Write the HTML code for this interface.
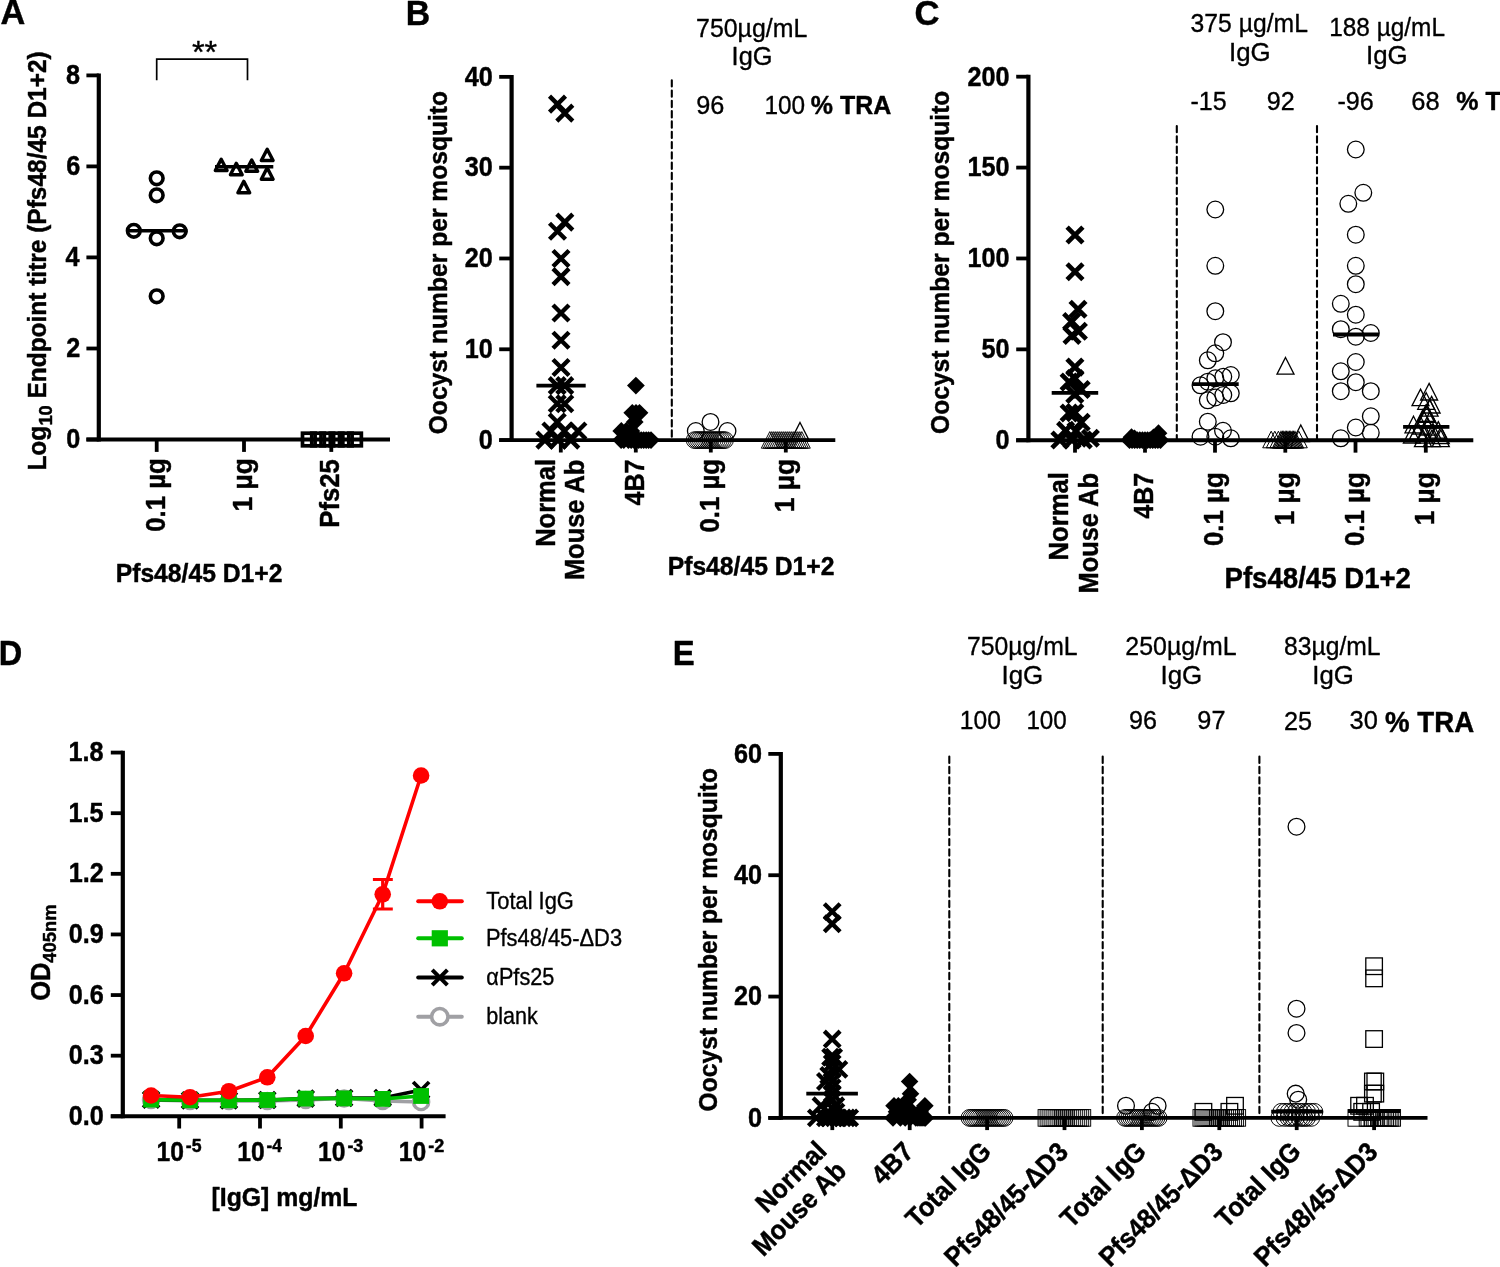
<!DOCTYPE html>
<html lang="en">
<head>
<meta charset="utf-8">
<title>Figure</title>
<style>
html,body{margin:0;padding:0;background:#fff;}
body{width:1500px;height:1267px;overflow:hidden;}
svg{display:block;font-family:'Liberation Sans', Arial, Helvetica, sans-serif;}
</style>
</head>
<body>
<svg width="1500" height="1267" viewBox="0 0 1500 1267">
<rect x="0" y="0" width="1500" height="1267" fill="#fff"/>
<g id="panelA">
<text transform="translate(1.3 24.4) scale(0.9589 1)" x="-0.9" y="0" font-size="35.8" font-weight="bold" stroke="#000" stroke-width="0.45" stroke-linejoin="round">A</text>
<line x1="98.8" y1="73.5" x2="98.8" y2="441.4" stroke="#000" stroke-width="4.2" />
<line x1="86.4" y1="439.5" x2="390" y2="439.5" stroke="#000" stroke-width="3.9" />
<line x1="86.4" y1="75.4" x2="98.8" y2="75.4" stroke="#000" stroke-width="3.8" />
<line x1="86.4" y1="166.4" x2="98.8" y2="166.4" stroke="#000" stroke-width="3.8" />
<line x1="86.4" y1="257.4" x2="98.8" y2="257.4" stroke="#000" stroke-width="3.8" />
<line x1="86.4" y1="348.5" x2="98.8" y2="348.5" stroke="#000" stroke-width="3.8" />
<line x1="86.4" y1="439.5" x2="98.8" y2="439.5" stroke="#000" stroke-width="3.8" />
<line x1="156.7" y1="439.5" x2="156.7" y2="451.9" stroke="#000" stroke-width="3.8" />
<line x1="244" y1="439.5" x2="244" y2="451.9" stroke="#000" stroke-width="3.8" />
<line x1="331.3" y1="439.5" x2="331.3" y2="451.9" stroke="#000" stroke-width="3.8" />
<text transform="translate(79.3 83.9) scale(0.9340 1)" x="-14.18" y="0" font-size="27" font-weight="bold" stroke="#000" stroke-width="0.45" stroke-linejoin="round">8</text>
<text transform="translate(79.3 174.9) scale(0.9340 1)" x="-14.04" y="0" font-size="27" font-weight="bold" stroke="#000" stroke-width="0.45" stroke-linejoin="round">6</text>
<text transform="translate(79.3 265.9) scale(0.9340 1)" x="-14.85" y="0" font-size="27" font-weight="bold" stroke="#000" stroke-width="0.45" stroke-linejoin="round">4</text>
<text transform="translate(79.3 357) scale(0.9340 1)" x="-13.91" y="0" font-size="27" font-weight="bold" stroke="#000" stroke-width="0.45" stroke-linejoin="round">2</text>
<text transform="translate(79.3 448) scale(0.9340 1)" x="-13.91" y="0" font-size="27" font-weight="bold" stroke="#000" stroke-width="0.45" stroke-linejoin="round">0</text>
<text transform="translate(164.8 459.8) rotate(-90) scale(0.9562 1)" x="-75.33" y="0" font-size="27" font-weight="bold" stroke="#000" stroke-width="0.45" stroke-linejoin="round">0.1 µg</text>
<text transform="translate(252.1 459.8) rotate(-90) scale(0.9798 1)" x="-52.79" y="0" font-size="27" font-weight="bold" stroke="#000" stroke-width="0.45" stroke-linejoin="round">1 µg</text>
<text transform="translate(339.4 459.8) rotate(-90) scale(0.9536 1)" x="-71.28" y="0" font-size="27" font-weight="bold" stroke="#000" stroke-width="0.45" stroke-linejoin="round">Pfs25</text>
<text transform="translate(117.3 582) scale(0.9394 1)" x="-1.71" y="0" font-size="26.3" font-weight="bold" stroke="#000" stroke-width="0.45" stroke-linejoin="round">Pfs48/45 D1+2</text>
<text transform="translate(46.2 469) rotate(-90) scale(0.9304 1)" x="-1.71" y="0" font-size="26.3" font-weight="bold" stroke="#000" stroke-width="0.45" stroke-linejoin="round">Log</text>
<text transform="translate(52.2 424.4) rotate(-90) scale(1.0286 1)" x="-1.16" y="0" font-size="17.8" font-weight="bold" stroke="#000" stroke-width="0.45" stroke-linejoin="round">10</text>
<text transform="translate(45.5 397) rotate(-90) scale(0.9308 1)" x="-1.71" y="0" font-size="26.3" font-weight="bold" stroke="#000" stroke-width="0.45" stroke-linejoin="round">Endpoint titre (Pfs48/45 D1+2)</text>
<path d="M156.7 80.3V59.2H247.5V80.3" stroke="#000" stroke-width="1.7" fill="none"/>
<text transform="translate(204.6 63.4) scale(1.0135 1)" x="-12.48" y="0" font-size="32" stroke="#000" stroke-width="0.35" stroke-linejoin="round">**</text>
<circle cx="156.7" cy="178.3" r="6.35" stroke="#000" stroke-width="3.6" fill="none"/>
<circle cx="156.7" cy="195.3" r="6.35" stroke="#000" stroke-width="3.6" fill="none"/>
<circle cx="133.8" cy="230.8" r="6.35" stroke="#000" stroke-width="3.6" fill="none"/>
<circle cx="156.7" cy="238.3" r="6.35" stroke="#000" stroke-width="3.6" fill="none"/>
<circle cx="179.7" cy="231.3" r="6.35" stroke="#000" stroke-width="3.6" fill="none"/>
<circle cx="156.7" cy="296.3" r="6.35" stroke="#000" stroke-width="3.6" fill="none"/>
<line x1="126.7" y1="230.8" x2="187.5" y2="230.8" stroke="#000" stroke-width="3.4" />
<path d="M221.2 159.2L227.1 170.5L215.3 170.5Z" stroke="#000" stroke-width="3.4" fill="none" stroke-linejoin="round"/>
<path d="M236.3 163.4L242.2 174.7L230.4 174.7Z" stroke="#000" stroke-width="3.4" fill="none" stroke-linejoin="round"/>
<path d="M251.7 160L257.6 171.3L245.8 171.3Z" stroke="#000" stroke-width="3.4" fill="none" stroke-linejoin="round"/>
<path d="M267.2 149.2L273.1 160.5L261.3 160.5Z" stroke="#000" stroke-width="3.4" fill="none" stroke-linejoin="round"/>
<path d="M267.2 167.9L273.1 179.2L261.3 179.2Z" stroke="#000" stroke-width="3.4" fill="none" stroke-linejoin="round"/>
<path d="M243.8 181.4L249.7 192.7L237.9 192.7Z" stroke="#000" stroke-width="3.4" fill="none" stroke-linejoin="round"/>
<line x1="215" y1="166.7" x2="273.3" y2="166.7" stroke="#000" stroke-width="3.4" />
<rect x="302.5" y="433.2" width="12.6" height="12.6" stroke="#000" stroke-width="3.7" fill="none"/>
<rect x="311.75" y="433.2" width="12.6" height="12.6" stroke="#000" stroke-width="3.7" fill="none"/>
<rect x="321" y="433.2" width="12.6" height="12.6" stroke="#000" stroke-width="3.7" fill="none"/>
<rect x="330.25" y="433.2" width="12.6" height="12.6" stroke="#000" stroke-width="3.7" fill="none"/>
<rect x="339.5" y="433.2" width="12.6" height="12.6" stroke="#000" stroke-width="3.7" fill="none"/>
<rect x="348.75" y="433.2" width="12.6" height="12.6" stroke="#000" stroke-width="3.7" fill="none"/>
</g>
<g id="panelB">
<text transform="translate(407.9 24.6) scale(0.9381 1)" x="-2.34" y="0" font-size="36" font-weight="bold" stroke="#000" stroke-width="0.45" stroke-linejoin="round">B</text>
<line x1="511.6" y1="74.96" x2="511.6" y2="442" stroke="#000" stroke-width="4.2" />
<line x1="499.2" y1="440.1" x2="835.3" y2="440.1" stroke="#000" stroke-width="3.9" />
<line x1="499.2" y1="76.86" x2="511.6" y2="76.86" stroke="#000" stroke-width="3.8" />
<line x1="499.2" y1="167.67" x2="511.6" y2="167.67" stroke="#000" stroke-width="3.8" />
<line x1="499.2" y1="258.48" x2="511.6" y2="258.48" stroke="#000" stroke-width="3.8" />
<line x1="499.2" y1="349.29" x2="511.6" y2="349.29" stroke="#000" stroke-width="3.8" />
<line x1="499.2" y1="440.1" x2="511.6" y2="440.1" stroke="#000" stroke-width="3.8" />
<line x1="560.8" y1="440.1" x2="560.8" y2="452.5" stroke="#000" stroke-width="3.8" />
<line x1="635.8" y1="440.1" x2="635.8" y2="452.5" stroke="#000" stroke-width="3.8" />
<line x1="710.8" y1="440.1" x2="710.8" y2="452.5" stroke="#000" stroke-width="3.8" />
<line x1="785.8" y1="440.1" x2="785.8" y2="452.5" stroke="#000" stroke-width="3.8" />
<text transform="translate(491.7 85.66) scale(0.9340 1)" x="-28.89" y="0" font-size="27" font-weight="bold" stroke="#000" stroke-width="0.45" stroke-linejoin="round">40</text>
<text transform="translate(491.7 176.47) scale(0.9340 1)" x="-28.89" y="0" font-size="27" font-weight="bold" stroke="#000" stroke-width="0.45" stroke-linejoin="round">30</text>
<text transform="translate(491.7 267.28) scale(0.9340 1)" x="-28.89" y="0" font-size="27" font-weight="bold" stroke="#000" stroke-width="0.45" stroke-linejoin="round">20</text>
<text transform="translate(491.7 358.09) scale(0.9340 1)" x="-28.89" y="0" font-size="27" font-weight="bold" stroke="#000" stroke-width="0.45" stroke-linejoin="round">10</text>
<text transform="translate(491.7 448.9) scale(0.9340 1)" x="-13.91" y="0" font-size="27" font-weight="bold" stroke="#000" stroke-width="0.45" stroke-linejoin="round">0</text>
<text transform="translate(555 460.6) rotate(-90) scale(0.9466 1)" x="-91.12" y="0" font-size="27" font-weight="bold" stroke="#000" stroke-width="0.45" stroke-linejoin="round">Normal</text>
<text transform="translate(584.3 460.6) rotate(-90) scale(0.9413 1)" x="-126.9" y="0" font-size="27" font-weight="bold" stroke="#000" stroke-width="0.45" stroke-linejoin="round">Mouse Ab</text>
<text transform="translate(644.1 460.6) rotate(-90) scale(0.9306 1)" x="-48.33" y="0" font-size="27" font-weight="bold" stroke="#000" stroke-width="0.45" stroke-linejoin="round">4B7</text>
<text transform="translate(719 460.6) rotate(-90) scale(0.9562 1)" x="-75.33" y="0" font-size="27" font-weight="bold" stroke="#000" stroke-width="0.45" stroke-linejoin="round">0.1 µg</text>
<text transform="translate(794 460.6) rotate(-90) scale(0.9798 1)" x="-52.79" y="0" font-size="27" font-weight="bold" stroke="#000" stroke-width="0.45" stroke-linejoin="round">1 µg</text>
<text transform="translate(669.3 575.2) scale(0.9394 1)" x="-1.71" y="0" font-size="26.3" font-weight="bold" stroke="#000" stroke-width="0.45" stroke-linejoin="round">Pfs48/45 D1+2</text>
<text transform="translate(446.6 433.3) rotate(-90) scale(0.9365 1)" x="-1.05" y="0" font-size="26.3" font-weight="bold" stroke="#000" stroke-width="0.45" stroke-linejoin="round">Oocyst number per mosquito</text>
<line x1="671.8" y1="80.2" x2="671.8" y2="440" stroke="#000" stroke-width="2.1" stroke-dasharray="6.3 4" stroke-linecap="round"/>
<text transform="translate(697.3 36.7) scale(0.9397 1)" x="-1.33" y="0" font-size="26.5" stroke="#000" stroke-width="0.35" stroke-linejoin="round">750µg/mL</text>
<text transform="translate(733.9 65) scale(0.9577 1)" x="-2.38" y="0" font-size="26.5" stroke="#000" stroke-width="0.35" stroke-linejoin="round">IgG</text>
<text transform="translate(697.3 113.8) scale(0.9545 1)" x="-1.19" y="0" font-size="26.5" stroke="#000" stroke-width="0.35" stroke-linejoin="round">96</text>
<text transform="translate(766.3 113.8) scale(0.9203 1)" x="-1.99" y="0" font-size="26.5" stroke="#000" stroke-width="0.35" stroke-linejoin="round">100</text>
<text transform="translate(811.4 113.8) scale(0.9393 1)" x="-0.67" y="0" font-size="26.6" font-weight="bold" stroke="#000" stroke-width="0.45" stroke-linejoin="round">% TRA</text>
<path d="M549.5 96.1L565.5 112.1M549.5 112.1L565.5 96.1" stroke="#000" stroke-width="4.4" fill="none"/>
<path d="M556.8 105.18L572.8 121.18M556.8 121.18L572.8 105.18" stroke="#000" stroke-width="4.4" fill="none"/>
<path d="M556.8 214.16L572.8 230.16M556.8 230.16L572.8 214.16" stroke="#000" stroke-width="4.4" fill="none"/>
<path d="M549.5 223.24L565.5 239.24M549.5 239.24L565.5 223.24" stroke="#000" stroke-width="4.4" fill="none"/>
<path d="M553 250.48L569 266.48M553 266.48L569 250.48" stroke="#000" stroke-width="4.4" fill="none"/>
<path d="M553 268.64L569 284.64M553 284.64L569 268.64" stroke="#000" stroke-width="4.4" fill="none"/>
<path d="M553 304.97L569 320.97M553 320.97L569 304.97" stroke="#000" stroke-width="4.4" fill="none"/>
<path d="M553 332.21L569 348.21M553 348.21L569 332.21" stroke="#000" stroke-width="4.4" fill="none"/>
<path d="M553 359.45L569 375.45M553 375.45L569 359.45" stroke="#000" stroke-width="4.4" fill="none"/>
<path d="M549.25 377.61L565.25 393.61M549.25 393.61L565.25 377.61" stroke="#000" stroke-width="4.4" fill="none"/>
<path d="M556.75 377.61L572.75 393.61M556.75 393.61L572.75 377.61" stroke="#000" stroke-width="4.4" fill="none"/>
<path d="M549.25 395.78L565.25 411.78M549.25 411.78L565.25 395.78" stroke="#000" stroke-width="4.4" fill="none"/>
<path d="M556.75 395.78L572.75 411.78M556.75 411.78L572.75 395.78" stroke="#000" stroke-width="4.4" fill="none"/>
<path d="M549.25 413.94L565.25 429.94M549.25 429.94L565.25 413.94" stroke="#000" stroke-width="4.4" fill="none"/>
<path d="M542.9 423.02L558.9 439.02M542.9 439.02L558.9 423.02" stroke="#000" stroke-width="4.4" fill="none"/>
<path d="M556.4 423.02L572.4 439.02M556.4 439.02L572.4 423.02" stroke="#000" stroke-width="4.4" fill="none"/>
<path d="M569.9 423.02L585.9 439.02M569.9 439.02L585.9 423.02" stroke="#000" stroke-width="4.4" fill="none"/>
<path d="M536.9 432.1L552.9 448.1M536.9 448.1L552.9 432.1" stroke="#000" stroke-width="4.4" fill="none"/>
<path d="M550 432.1L566 448.1M550 448.1L566 432.1" stroke="#000" stroke-width="4.4" fill="none"/>
<path d="M562.8 432.1L578.8 448.1M562.8 448.1L578.8 432.1" stroke="#000" stroke-width="4.4" fill="none"/>
<line x1="536.4" y1="385.61" x2="585.7" y2="385.61" stroke="#000" stroke-width="3.6" />
<path d="M635.9 376.71L644.8 385.61L635.9 394.51L627 385.61Z" fill="#000"/>
<path d="M632.3 403.96L641.2 412.86L632.3 421.76L623.4 412.86Z" fill="#000"/>
<path d="M636 403.96L644.9 412.86L636 421.76L627.1 412.86Z" fill="#000"/>
<path d="M639.5 403.96L648.4 412.86L639.5 421.76L630.6 412.86Z" fill="#000"/>
<path d="M634.7 413.04L643.6 421.94L634.7 430.84L625.8 421.94Z" fill="#000"/>
<path d="M621.3 422.12L630.2 431.02L621.3 439.92L612.4 431.02Z" fill="#000"/>
<path d="M626.3 422.12L635.2 431.02L626.3 439.92L617.4 431.02Z" fill="#000"/>
<path d="M631.3 422.12L640.2 431.02L631.3 439.92L622.4 431.02Z" fill="#000"/>
<path d="M621.1 431.2L630 440.1L621.1 449L612.2 440.1Z" fill="#000"/>
<path d="M623.8 431.2L632.7 440.1L623.8 449L614.9 440.1Z" fill="#000"/>
<path d="M628.4 431.2L637.3 440.1L628.4 449L619.5 440.1Z" fill="#000"/>
<path d="M631.2 431.2L640.1 440.1L631.2 449L622.3 440.1Z" fill="#000"/>
<path d="M634 431.2L642.9 440.1L634 449L625.1 440.1Z" fill="#000"/>
<path d="M636.3 431.2L645.2 440.1L636.3 449L627.4 440.1Z" fill="#000"/>
<path d="M638.7 431.2L647.6 440.1L638.7 449L629.8 440.1Z" fill="#000"/>
<path d="M641.2 431.2L650.1 440.1L641.2 449L632.3 440.1Z" fill="#000"/>
<path d="M643.7 431.2L652.6 440.1L643.7 449L634.8 440.1Z" fill="#000"/>
<path d="M646.2 431.2L655.1 440.1L646.2 449L637.3 440.1Z" fill="#000"/>
<path d="M648.6 431.2L657.5 440.1L648.6 449L639.7 440.1Z" fill="#000"/>
<path d="M651 431.2L659.9 440.1L651 449L642.1 440.1Z" fill="#000"/>
<circle cx="710.5" cy="421.94" r="8.35" stroke="#000" stroke-width="1.3" fill="none"/>
<circle cx="695.8" cy="431.02" r="8.35" stroke="#000" stroke-width="1.3" fill="none"/>
<circle cx="727.5" cy="431.02" r="8.35" stroke="#000" stroke-width="1.3" fill="none"/>
<circle cx="694.6" cy="440.1" r="8.35" stroke="#000" stroke-width="0.95" fill="none"/>
<circle cx="696.63" cy="440.1" r="8.35" stroke="#000" stroke-width="0.95" fill="none"/>
<circle cx="698.66" cy="440.1" r="8.35" stroke="#000" stroke-width="0.95" fill="none"/>
<circle cx="700.69" cy="440.1" r="8.35" stroke="#000" stroke-width="0.95" fill="none"/>
<circle cx="702.72" cy="440.1" r="8.35" stroke="#000" stroke-width="0.95" fill="none"/>
<circle cx="704.75" cy="440.1" r="8.35" stroke="#000" stroke-width="0.95" fill="none"/>
<circle cx="706.78" cy="440.1" r="8.35" stroke="#000" stroke-width="0.95" fill="none"/>
<circle cx="708.81" cy="440.1" r="8.35" stroke="#000" stroke-width="0.95" fill="none"/>
<circle cx="710.84" cy="440.1" r="8.35" stroke="#000" stroke-width="0.95" fill="none"/>
<circle cx="712.87" cy="440.1" r="8.35" stroke="#000" stroke-width="0.95" fill="none"/>
<circle cx="714.9" cy="440.1" r="8.35" stroke="#000" stroke-width="0.95" fill="none"/>
<circle cx="716.93" cy="440.1" r="8.35" stroke="#000" stroke-width="0.95" fill="none"/>
<circle cx="718.96" cy="440.1" r="8.35" stroke="#000" stroke-width="0.95" fill="none"/>
<circle cx="720.99" cy="440.1" r="8.35" stroke="#000" stroke-width="0.95" fill="none"/>
<circle cx="723.02" cy="440.1" r="8.35" stroke="#000" stroke-width="0.95" fill="none"/>
<circle cx="725.05" cy="440.1" r="8.35" stroke="#000" stroke-width="0.95" fill="none"/>
<path d="M769.8 431.6L778.3 448.2L761.3 448.2Z" stroke="#000" stroke-width="0.95" fill="none" stroke-linejoin="miter"/>
<path d="M771.8 431.6L780.3 448.2L763.3 448.2Z" stroke="#000" stroke-width="0.95" fill="none" stroke-linejoin="miter"/>
<path d="M773.8 431.6L782.3 448.2L765.3 448.2Z" stroke="#000" stroke-width="0.95" fill="none" stroke-linejoin="miter"/>
<path d="M775.8 431.6L784.3 448.2L767.3 448.2Z" stroke="#000" stroke-width="0.95" fill="none" stroke-linejoin="miter"/>
<path d="M777.8 431.6L786.3 448.2L769.3 448.2Z" stroke="#000" stroke-width="0.95" fill="none" stroke-linejoin="miter"/>
<path d="M779.8 431.6L788.3 448.2L771.3 448.2Z" stroke="#000" stroke-width="0.95" fill="none" stroke-linejoin="miter"/>
<path d="M781.8 431.6L790.3 448.2L773.3 448.2Z" stroke="#000" stroke-width="0.95" fill="none" stroke-linejoin="miter"/>
<path d="M783.8 431.6L792.3 448.2L775.3 448.2Z" stroke="#000" stroke-width="0.95" fill="none" stroke-linejoin="miter"/>
<path d="M785.8 431.6L794.3 448.2L777.3 448.2Z" stroke="#000" stroke-width="0.95" fill="none" stroke-linejoin="miter"/>
<path d="M787.8 431.6L796.3 448.2L779.3 448.2Z" stroke="#000" stroke-width="0.95" fill="none" stroke-linejoin="miter"/>
<path d="M789.8 431.6L798.3 448.2L781.3 448.2Z" stroke="#000" stroke-width="0.95" fill="none" stroke-linejoin="miter"/>
<path d="M791.8 431.6L800.3 448.2L783.3 448.2Z" stroke="#000" stroke-width="0.95" fill="none" stroke-linejoin="miter"/>
<path d="M793.8 431.6L802.3 448.2L785.3 448.2Z" stroke="#000" stroke-width="0.95" fill="none" stroke-linejoin="miter"/>
<path d="M795.8 431.6L804.3 448.2L787.3 448.2Z" stroke="#000" stroke-width="0.95" fill="none" stroke-linejoin="miter"/>
<path d="M797.8 431.6L806.3 448.2L789.3 448.2Z" stroke="#000" stroke-width="0.95" fill="none" stroke-linejoin="miter"/>
<path d="M799.8 431.6L808.3 448.2L791.3 448.2Z" stroke="#000" stroke-width="0.95" fill="none" stroke-linejoin="miter"/>
<path d="M801.8 431.6L810.3 448.2L793.3 448.2Z" stroke="#000" stroke-width="0.95" fill="none" stroke-linejoin="miter"/>
<path d="M800 422.52L808.5 439.12L791.5 439.12Z" stroke="#000" stroke-width="1.3" fill="none" stroke-linejoin="miter"/>
</g>
<g id="panelC">
<text transform="translate(915.8 24.5) scale(0.9627 1)" x="-1.44" y="0" font-size="36" font-weight="bold" stroke="#000" stroke-width="0.45" stroke-linejoin="round">C</text>
<line x1="1028.4" y1="74.79" x2="1028.4" y2="442.15" stroke="#000" stroke-width="4.2" />
<line x1="1016.2" y1="440.25" x2="1473.3" y2="440.25" stroke="#000" stroke-width="3.9" />
<line x1="1016.2" y1="76.69" x2="1028.4" y2="76.69" stroke="#000" stroke-width="3.8" />
<line x1="1016.2" y1="167.58" x2="1028.4" y2="167.58" stroke="#000" stroke-width="3.8" />
<line x1="1016.2" y1="258.47" x2="1028.4" y2="258.47" stroke="#000" stroke-width="3.8" />
<line x1="1016.2" y1="349.36" x2="1028.4" y2="349.36" stroke="#000" stroke-width="3.8" />
<line x1="1016.2" y1="440.25" x2="1028.4" y2="440.25" stroke="#000" stroke-width="3.8" />
<line x1="1075" y1="440.25" x2="1075" y2="452.65" stroke="#000" stroke-width="3.8" />
<line x1="1145" y1="440.25" x2="1145" y2="452.65" stroke="#000" stroke-width="3.8" />
<line x1="1215" y1="440.25" x2="1215" y2="452.65" stroke="#000" stroke-width="3.8" />
<line x1="1285.3" y1="440.25" x2="1285.3" y2="452.65" stroke="#000" stroke-width="3.8" />
<line x1="1355.5" y1="440.25" x2="1355.5" y2="452.65" stroke="#000" stroke-width="3.8" />
<line x1="1425.8" y1="440.25" x2="1425.8" y2="452.65" stroke="#000" stroke-width="3.8" />
<text transform="translate(1008.5 85.59) scale(0.9340 1)" x="-43.88" y="0" font-size="27" font-weight="bold" stroke="#000" stroke-width="0.45" stroke-linejoin="round">200</text>
<text transform="translate(1008.5 176.48) scale(0.9340 1)" x="-43.88" y="0" font-size="27" font-weight="bold" stroke="#000" stroke-width="0.45" stroke-linejoin="round">150</text>
<text transform="translate(1008.5 267.37) scale(0.9340 1)" x="-43.88" y="0" font-size="27" font-weight="bold" stroke="#000" stroke-width="0.45" stroke-linejoin="round">100</text>
<text transform="translate(1008.5 358.26) scale(0.9340 1)" x="-28.89" y="0" font-size="27" font-weight="bold" stroke="#000" stroke-width="0.45" stroke-linejoin="round">50</text>
<text transform="translate(1008.5 449.15) scale(0.9340 1)" x="-13.91" y="0" font-size="27" font-weight="bold" stroke="#000" stroke-width="0.45" stroke-linejoin="round">0</text>
<text transform="translate(1067.6 474) rotate(-90) scale(0.9489 1)" x="-91.12" y="0" font-size="27" font-weight="bold" stroke="#000" stroke-width="0.45" stroke-linejoin="round">Normal</text>
<text transform="translate(1097.8 474) rotate(-90) scale(0.9413 1)" x="-126.9" y="0" font-size="27" font-weight="bold" stroke="#000" stroke-width="0.45" stroke-linejoin="round">Mouse Ab</text>
<text transform="translate(1153.4 474) rotate(-90) scale(0.9264 1)" x="-48.33" y="0" font-size="27" font-weight="bold" stroke="#000" stroke-width="0.45" stroke-linejoin="round">4B7</text>
<text transform="translate(1223.1 474) rotate(-90) scale(0.9562 1)" x="-75.33" y="0" font-size="27" font-weight="bold" stroke="#000" stroke-width="0.45" stroke-linejoin="round">0.1 µg</text>
<text transform="translate(1293.9 474) rotate(-90) scale(0.9700 1)" x="-52.79" y="0" font-size="27" font-weight="bold" stroke="#000" stroke-width="0.45" stroke-linejoin="round">1 µg</text>
<text transform="translate(1363.6 474) rotate(-90) scale(0.9562 1)" x="-75.33" y="0" font-size="27" font-weight="bold" stroke="#000" stroke-width="0.45" stroke-linejoin="round">0.1 µg</text>
<text transform="translate(1434.4 474) rotate(-90) scale(0.9700 1)" x="-52.79" y="0" font-size="27" font-weight="bold" stroke="#000" stroke-width="0.45" stroke-linejoin="round">1 µg</text>
<text transform="translate(1226.3 588) scale(0.9265 1)" x="-1.94" y="0" font-size="29.8" font-weight="bold" stroke="#000" stroke-width="0.45" stroke-linejoin="round">Pfs48/45 D1+2</text>
<text transform="translate(949 433) rotate(-90) scale(0.9365 1)" x="-1.05" y="0" font-size="26.3" font-weight="bold" stroke="#000" stroke-width="0.45" stroke-linejoin="round">Oocyst number per mosquito</text>
<line x1="1176.8" y1="126" x2="1176.8" y2="439.5" stroke="#000" stroke-width="2.1" stroke-dasharray="6.3 4" stroke-linecap="round"/>
<line x1="1317" y1="126" x2="1317" y2="439.5" stroke="#000" stroke-width="2.1" stroke-dasharray="6.3 4" stroke-linecap="round"/>
<text transform="translate(1191.6 31.5) scale(0.9331 1)" x="-1.06" y="0" font-size="26.5" stroke="#000" stroke-width="0.35" stroke-linejoin="round">375 µg/mL</text>
<text transform="translate(1231.3 61.1) scale(0.9759 1)" x="-2.38" y="0" font-size="26.5" stroke="#000" stroke-width="0.35" stroke-linejoin="round">IgG</text>
<text transform="translate(1331 35.5) scale(0.9214 1)" x="-1.99" y="0" font-size="26.5" stroke="#000" stroke-width="0.35" stroke-linejoin="round">188 µg/mL</text>
<text transform="translate(1368.3 64.2) scale(0.9759 1)" x="-2.38" y="0" font-size="26.5" stroke="#000" stroke-width="0.35" stroke-linejoin="round">IgG</text>
<text transform="translate(1191.6 110.1) scale(0.9434 1)" x="-1.19" y="0" font-size="26.5" stroke="#000" stroke-width="0.35" stroke-linejoin="round">-15</text>
<text transform="translate(1267.9 110.1) scale(0.9480 1)" x="-1.19" y="0" font-size="26.5" stroke="#000" stroke-width="0.35" stroke-linejoin="round">92</text>
<text transform="translate(1338.6 110.1) scale(0.9469 1)" x="-1.19" y="0" font-size="26.5" stroke="#000" stroke-width="0.35" stroke-linejoin="round">-96</text>
<text transform="translate(1412.6 110.1) scale(0.9619 1)" x="-1.33" y="0" font-size="26.5" stroke="#000" stroke-width="0.35" stroke-linejoin="round">68</text>
<text transform="translate(1456.9 109.5) scale(0.9393 1)" x="-0.67" y="0" font-size="26.6" font-weight="bold" stroke="#000" stroke-width="0.45" stroke-linejoin="round">% TRA</text>
<path d="M1067.1 227.1L1082.9 242.9M1067.1 242.9L1082.9 227.1" stroke="#000" stroke-width="4.7" fill="none"/>
<path d="M1067.1 263.8L1082.9 279.6M1067.1 279.6L1082.9 263.8" stroke="#000" stroke-width="4.7" fill="none"/>
<path d="M1070.1 301.4L1085.9 317.2M1070.1 317.2L1085.9 301.4" stroke="#000" stroke-width="4.7" fill="none"/>
<path d="M1063.7 313.7L1079.5 329.5M1063.7 329.5L1079.5 313.7" stroke="#000" stroke-width="4.7" fill="none"/>
<path d="M1070.5 323.3L1086.3 339.1M1070.5 339.1L1086.3 323.3" stroke="#000" stroke-width="4.7" fill="none"/>
<path d="M1064.1 327.6L1079.9 343.4M1064.1 343.4L1079.9 327.6" stroke="#000" stroke-width="4.7" fill="none"/>
<path d="M1067 359.2L1082.8 375M1067 375L1082.8 359.2" stroke="#000" stroke-width="4.7" fill="none"/>
<path d="M1067 370.6L1082.8 386.4M1067 386.4L1082.8 370.6" stroke="#000" stroke-width="4.7" fill="none"/>
<path d="M1061.2 374.2L1077 390M1061.2 390L1077 374.2" stroke="#000" stroke-width="4.7" fill="none"/>
<path d="M1073.3 381.6L1089.1 397.4M1073.3 397.4L1089.1 381.6" stroke="#000" stroke-width="4.7" fill="none"/>
<path d="M1066.9 386.6L1082.7 402.4M1066.9 402.4L1082.7 386.6" stroke="#000" stroke-width="4.7" fill="none"/>
<path d="M1066.9 404.7L1082.7 420.5M1066.9 420.5L1082.7 404.7" stroke="#000" stroke-width="4.7" fill="none"/>
<path d="M1061.2 405.1L1077 420.9M1061.2 420.9L1077 405.1" stroke="#000" stroke-width="4.7" fill="none"/>
<path d="M1073.3 414.3L1089.1 430.1M1073.3 430.1L1089.1 414.3" stroke="#000" stroke-width="4.7" fill="none"/>
<path d="M1057.7 422.5L1073.5 438.3M1057.7 438.3L1073.5 422.5" stroke="#000" stroke-width="4.7" fill="none"/>
<path d="M1068.1 423.1L1083.9 438.9M1068.1 438.9L1083.9 423.1" stroke="#000" stroke-width="4.7" fill="none"/>
<path d="M1052 432.1L1067.8 447.9M1052 447.9L1067.8 432.1" stroke="#000" stroke-width="4.7" fill="none"/>
<path d="M1064.1 432.1L1079.9 447.9M1064.1 447.9L1079.9 432.1" stroke="#000" stroke-width="4.7" fill="none"/>
<path d="M1075.4 432.1L1091.2 447.9M1075.4 447.9L1091.2 432.1" stroke="#000" stroke-width="4.7" fill="none"/>
<path d="M1082.5 430.3L1098.3 446.1M1082.5 446.1L1098.3 430.3" stroke="#000" stroke-width="4.7" fill="none"/>
<line x1="1051.7" y1="392.9" x2="1098.2" y2="392.9" stroke="#000" stroke-width="3.8" />
<path d="M1129.5 431.3L1138.4 440.2L1129.5 449.1L1120.6 440.2Z" fill="#000"/>
<path d="M1132.08 431.3L1140.98 440.2L1132.08 449.1L1123.18 440.2Z" fill="#000"/>
<path d="M1134.66 431.3L1143.56 440.2L1134.66 449.1L1125.76 440.2Z" fill="#000"/>
<path d="M1137.24 431.3L1146.14 440.2L1137.24 449.1L1128.34 440.2Z" fill="#000"/>
<path d="M1139.82 431.3L1148.72 440.2L1139.82 449.1L1130.92 440.2Z" fill="#000"/>
<path d="M1142.4 431.3L1151.3 440.2L1142.4 449.1L1133.5 440.2Z" fill="#000"/>
<path d="M1144.98 431.3L1153.88 440.2L1144.98 449.1L1136.08 440.2Z" fill="#000"/>
<path d="M1147.56 431.3L1156.46 440.2L1147.56 449.1L1138.66 440.2Z" fill="#000"/>
<path d="M1150.14 431.3L1159.04 440.2L1150.14 449.1L1141.24 440.2Z" fill="#000"/>
<path d="M1152.72 431.3L1161.62 440.2L1152.72 449.1L1143.82 440.2Z" fill="#000"/>
<path d="M1155.3 431.3L1164.2 440.2L1155.3 449.1L1146.4 440.2Z" fill="#000"/>
<path d="M1157.88 431.3L1166.78 440.2L1157.88 449.1L1148.98 440.2Z" fill="#000"/>
<path d="M1160.46 431.3L1169.36 440.2L1160.46 449.1L1151.56 440.2Z" fill="#000"/>
<path d="M1131.5 428.3L1140.4 437.2L1131.5 446.1L1122.6 437.2Z" fill="#000"/>
<path d="M1134.5 429.6L1143.4 438.5L1134.5 447.4L1125.6 438.5Z" fill="#000"/>
<path d="M1153.5 428.5L1162.4 437.4L1153.5 446.3L1144.6 437.4Z" fill="#000"/>
<path d="M1158.5 424.3L1167.4 433.2L1158.5 442.1L1149.6 433.2Z" fill="#000"/>
<circle cx="1215.3" cy="209.5" r="8.35" stroke="#000" stroke-width="1.3" fill="none"/>
<circle cx="1215.3" cy="265.8" r="8.35" stroke="#000" stroke-width="1.3" fill="none"/>
<circle cx="1215.3" cy="311.2" r="8.35" stroke="#000" stroke-width="1.3" fill="none"/>
<circle cx="1223" cy="342.2" r="8.35" stroke="#000" stroke-width="1.3" fill="none"/>
<circle cx="1215.3" cy="353.3" r="8.35" stroke="#000" stroke-width="1.3" fill="none"/>
<circle cx="1207.8" cy="360.3" r="8.35" stroke="#000" stroke-width="1.3" fill="none"/>
<circle cx="1230.8" cy="375" r="8.35" stroke="#000" stroke-width="1.3" fill="none"/>
<circle cx="1223.3" cy="376.7" r="8.35" stroke="#000" stroke-width="1.3" fill="none"/>
<circle cx="1215.3" cy="378.3" r="8.35" stroke="#000" stroke-width="1.3" fill="none"/>
<circle cx="1207.8" cy="381.7" r="8.35" stroke="#000" stroke-width="1.3" fill="none"/>
<circle cx="1200.5" cy="385.3" r="8.35" stroke="#000" stroke-width="1.3" fill="none"/>
<circle cx="1230.8" cy="393.3" r="8.35" stroke="#000" stroke-width="1.3" fill="none"/>
<circle cx="1223.3" cy="395" r="8.35" stroke="#000" stroke-width="1.3" fill="none"/>
<circle cx="1215.3" cy="397.5" r="8.35" stroke="#000" stroke-width="1.3" fill="none"/>
<circle cx="1207.8" cy="400.3" r="8.35" stroke="#000" stroke-width="1.3" fill="none"/>
<circle cx="1207.8" cy="421.7" r="8.35" stroke="#000" stroke-width="1.3" fill="none"/>
<circle cx="1223" cy="430.8" r="8.35" stroke="#000" stroke-width="1.3" fill="none"/>
<circle cx="1200.5" cy="436.7" r="8.35" stroke="#000" stroke-width="1.3" fill="none"/>
<circle cx="1215.3" cy="436.7" r="8.35" stroke="#000" stroke-width="1.3" fill="none"/>
<circle cx="1230.8" cy="438.3" r="8.35" stroke="#000" stroke-width="1.3" fill="none"/>
<line x1="1192.5" y1="384.2" x2="1238.7" y2="384.2" stroke="#000" stroke-width="3.8" />
<path d="M1271.2 431.2L1279.7 447.8L1262.7 447.8Z" stroke="#000" stroke-width="1" fill="none" stroke-linejoin="miter"/>
<path d="M1274.8 431.2L1283.3 447.8L1266.3 447.8Z" stroke="#000" stroke-width="1" fill="none" stroke-linejoin="miter"/>
<path d="M1278.4 431.2L1286.9 447.8L1269.9 447.8Z" stroke="#000" stroke-width="1" fill="none" stroke-linejoin="miter"/>
<path d="M1281 431.4L1289.5 448L1272.5 448Z" stroke="#000" stroke-width="1.05" fill="none" stroke-linejoin="miter"/>
<path d="M1282.4 431.4L1290.9 448L1273.9 448Z" stroke="#000" stroke-width="1.05" fill="none" stroke-linejoin="miter"/>
<path d="M1283.8 431.4L1292.3 448L1275.3 448Z" stroke="#000" stroke-width="1.05" fill="none" stroke-linejoin="miter"/>
<path d="M1285.2 431.4L1293.7 448L1276.7 448Z" stroke="#000" stroke-width="1.05" fill="none" stroke-linejoin="miter"/>
<path d="M1286.6 431.4L1295.1 448L1278.1 448Z" stroke="#000" stroke-width="1.05" fill="none" stroke-linejoin="miter"/>
<path d="M1288 431.4L1296.5 448L1279.5 448Z" stroke="#000" stroke-width="1.05" fill="none" stroke-linejoin="miter"/>
<path d="M1289.4 431.4L1297.9 448L1280.9 448Z" stroke="#000" stroke-width="1.05" fill="none" stroke-linejoin="miter"/>
<path d="M1290.8 431.4L1299.3 448L1282.3 448Z" stroke="#000" stroke-width="1.05" fill="none" stroke-linejoin="miter"/>
<path d="M1292.2 431.4L1300.7 448L1283.7 448Z" stroke="#000" stroke-width="1.05" fill="none" stroke-linejoin="miter"/>
<path d="M1293.6 431.4L1302.1 448L1285.1 448Z" stroke="#000" stroke-width="1.05" fill="none" stroke-linejoin="miter"/>
<path d="M1295 431.4L1303.5 448L1286.5 448Z" stroke="#000" stroke-width="1.05" fill="none" stroke-linejoin="miter"/>
<path d="M1298.8 431.2L1307.3 447.8L1290.3 447.8Z" stroke="#000" stroke-width="1" fill="none" stroke-linejoin="miter"/>
<path d="M1300.8 425L1309.3 441.6L1292.3 441.6Z" stroke="#000" stroke-width="1.3" fill="none" stroke-linejoin="miter"/>
<path d="M1285.5 357.5L1294 374.1L1277 374.1Z" stroke="#000" stroke-width="1.3" fill="none" stroke-linejoin="miter"/>
<circle cx="1355.8" cy="149.5" r="8.35" stroke="#000" stroke-width="1.3" fill="none"/>
<circle cx="1363.3" cy="192.8" r="8.35" stroke="#000" stroke-width="1.3" fill="none"/>
<circle cx="1348.3" cy="203.8" r="8.35" stroke="#000" stroke-width="1.3" fill="none"/>
<circle cx="1355.8" cy="234.7" r="8.35" stroke="#000" stroke-width="1.3" fill="none"/>
<circle cx="1355.8" cy="265.8" r="8.35" stroke="#000" stroke-width="1.3" fill="none"/>
<circle cx="1355.8" cy="284.2" r="8.35" stroke="#000" stroke-width="1.3" fill="none"/>
<circle cx="1340.8" cy="303.8" r="8.35" stroke="#000" stroke-width="1.3" fill="none"/>
<circle cx="1355.8" cy="314.7" r="8.35" stroke="#000" stroke-width="1.3" fill="none"/>
<circle cx="1340.8" cy="329.2" r="8.35" stroke="#000" stroke-width="1.3" fill="none"/>
<circle cx="1370.8" cy="333" r="8.35" stroke="#000" stroke-width="1.3" fill="none"/>
<circle cx="1355.8" cy="336.7" r="8.35" stroke="#000" stroke-width="1.3" fill="none"/>
<circle cx="1355.8" cy="362" r="8.35" stroke="#000" stroke-width="1.3" fill="none"/>
<circle cx="1340.8" cy="371.3" r="8.35" stroke="#000" stroke-width="1.3" fill="none"/>
<circle cx="1355.8" cy="382.2" r="8.35" stroke="#000" stroke-width="1.3" fill="none"/>
<circle cx="1340.8" cy="391.2" r="8.35" stroke="#000" stroke-width="1.3" fill="none"/>
<circle cx="1370.8" cy="391.2" r="8.35" stroke="#000" stroke-width="1.3" fill="none"/>
<circle cx="1370.8" cy="416.3" r="8.35" stroke="#000" stroke-width="1.3" fill="none"/>
<circle cx="1355.8" cy="427.5" r="8.35" stroke="#000" stroke-width="1.3" fill="none"/>
<circle cx="1370.8" cy="432.8" r="8.35" stroke="#000" stroke-width="1.3" fill="none"/>
<circle cx="1340.8" cy="438.3" r="8.35" stroke="#000" stroke-width="1.3" fill="none"/>
<line x1="1333" y1="334.5" x2="1379.2" y2="334.5" stroke="#000" stroke-width="3.8" />
<path d="M1429.1 383.4L1437.6 400L1420.6 400Z" stroke="#000" stroke-width="1.3" fill="none" stroke-linejoin="miter"/>
<path d="M1420.5 389.1L1429 405.7L1412 405.7Z" stroke="#000" stroke-width="1.3" fill="none" stroke-linejoin="miter"/>
<path d="M1426.2 392.7L1434.7 409.3L1417.7 409.3Z" stroke="#000" stroke-width="1.3" fill="none" stroke-linejoin="miter"/>
<path d="M1431.6 396.4L1440.1 413L1423.1 413Z" stroke="#000" stroke-width="1.3" fill="none" stroke-linejoin="miter"/>
<path d="M1429.6 399.5L1438.1 416.1L1421.1 416.1Z" stroke="#000" stroke-width="1.3" fill="none" stroke-linejoin="miter"/>
<path d="M1426.6 404.8L1435.1 421.4L1418.1 421.4Z" stroke="#000" stroke-width="1.3" fill="none" stroke-linejoin="miter"/>
<path d="M1425.8 405.3L1434.3 421.9L1417.3 421.9Z" stroke="#000" stroke-width="1.3" fill="none" stroke-linejoin="miter"/>
<path d="M1427.4 405.7L1435.9 422.3L1418.9 422.3Z" stroke="#000" stroke-width="1.3" fill="none" stroke-linejoin="miter"/>
<path d="M1423 409.5L1431.5 426.1L1414.5 426.1Z" stroke="#000" stroke-width="1.3" fill="none" stroke-linejoin="miter"/>
<path d="M1430 411.5L1438.5 428.1L1421.5 428.1Z" stroke="#000" stroke-width="1.3" fill="none" stroke-linejoin="miter"/>
<path d="M1413.5 416.2L1422 432.8L1405 432.8Z" stroke="#000" stroke-width="1.3" fill="none" stroke-linejoin="miter"/>
<path d="M1421 417.5L1429.5 434.1L1412.5 434.1Z" stroke="#000" stroke-width="1.3" fill="none" stroke-linejoin="miter"/>
<path d="M1428 418.5L1436.5 435.1L1419.5 435.1Z" stroke="#000" stroke-width="1.3" fill="none" stroke-linejoin="miter"/>
<path d="M1438.3 421.6L1446.8 438.2L1429.8 438.2Z" stroke="#000" stroke-width="1.3" fill="none" stroke-linejoin="miter"/>
<path d="M1418 422.5L1426.5 439.1L1409.5 439.1Z" stroke="#000" stroke-width="1.3" fill="none" stroke-linejoin="miter"/>
<path d="M1433 423.5L1441.5 440.1L1424.5 440.1Z" stroke="#000" stroke-width="1.3" fill="none" stroke-linejoin="miter"/>
<path d="M1411.9 426.4L1420.4 443L1403.4 443Z" stroke="#000" stroke-width="1.3" fill="none" stroke-linejoin="miter"/>
<path d="M1424 426.5L1432.5 443.1L1415.5 443.1Z" stroke="#000" stroke-width="1.3" fill="none" stroke-linejoin="miter"/>
<path d="M1440.8 427L1449.3 443.6L1432.3 443.6Z" stroke="#000" stroke-width="1.3" fill="none" stroke-linejoin="miter"/>
<path d="M1423 430L1431.5 446.6L1414.5 446.6Z" stroke="#000" stroke-width="1.3" fill="none" stroke-linejoin="miter"/>
<path d="M1432 430L1440.5 446.6L1423.5 446.6Z" stroke="#000" stroke-width="1.3" fill="none" stroke-linejoin="miter"/>
<path d="M1440.8 430L1449.3 446.6L1432.3 446.6Z" stroke="#000" stroke-width="1.3" fill="none" stroke-linejoin="miter"/>
<line x1="1403.1" y1="426.8" x2="1449.4" y2="426.8" stroke="#000" stroke-width="3.8" />
</g>
<g id="panelD">
<text transform="translate(0.9 664.7) scale(0.9135 1)" x="-2.31" y="0" font-size="35.6" font-weight="bold" stroke="#000" stroke-width="0.45" stroke-linejoin="round">D</text>
<line x1="122.8" y1="750.68" x2="122.8" y2="1118.2" stroke="#000" stroke-width="4.2" />
<line x1="110.8" y1="1116.3" x2="445.6" y2="1116.3" stroke="#000" stroke-width="3.9" />
<line x1="110.8" y1="752.58" x2="122.8" y2="752.58" stroke="#000" stroke-width="3.8" />
<line x1="110.8" y1="813.2" x2="122.8" y2="813.2" stroke="#000" stroke-width="3.8" />
<line x1="110.8" y1="873.82" x2="122.8" y2="873.82" stroke="#000" stroke-width="3.8" />
<line x1="110.8" y1="934.44" x2="122.8" y2="934.44" stroke="#000" stroke-width="3.8" />
<line x1="110.8" y1="995.06" x2="122.8" y2="995.06" stroke="#000" stroke-width="3.8" />
<line x1="110.8" y1="1055.68" x2="122.8" y2="1055.68" stroke="#000" stroke-width="3.8" />
<line x1="110.8" y1="1116.3" x2="122.8" y2="1116.3" stroke="#000" stroke-width="3.8" />
<line x1="179.2" y1="1116.3" x2="179.2" y2="1128.5" stroke="#000" stroke-width="3.8" />
<line x1="260" y1="1116.3" x2="260" y2="1128.5" stroke="#000" stroke-width="3.8" />
<line x1="340.8" y1="1116.3" x2="340.8" y2="1128.5" stroke="#000" stroke-width="3.8" />
<line x1="421.6" y1="1116.3" x2="421.6" y2="1128.5" stroke="#000" stroke-width="3.8" />
<text transform="translate(102.8 761.08) scale(0.9340 1)" x="-36.72" y="0" font-size="27" font-weight="bold" stroke="#000" stroke-width="0.45" stroke-linejoin="round">1.8</text>
<text transform="translate(102.8 821.7) scale(0.9340 1)" x="-36.85" y="0" font-size="27" font-weight="bold" stroke="#000" stroke-width="0.45" stroke-linejoin="round">1.5</text>
<text transform="translate(102.8 882.32) scale(0.9340 1)" x="-36.45" y="0" font-size="27" font-weight="bold" stroke="#000" stroke-width="0.45" stroke-linejoin="round">1.2</text>
<text transform="translate(102.8 942.94) scale(0.9340 1)" x="-36.59" y="0" font-size="27" font-weight="bold" stroke="#000" stroke-width="0.45" stroke-linejoin="round">0.9</text>
<text transform="translate(102.8 1003.56) scale(0.9340 1)" x="-36.59" y="0" font-size="27" font-weight="bold" stroke="#000" stroke-width="0.45" stroke-linejoin="round">0.6</text>
<text transform="translate(102.8 1064.18) scale(0.9340 1)" x="-36.59" y="0" font-size="27" font-weight="bold" stroke="#000" stroke-width="0.45" stroke-linejoin="round">0.3</text>
<text transform="translate(102.8 1124.8) scale(0.9340 1)" x="-36.45" y="0" font-size="27" font-weight="bold" stroke="#000" stroke-width="0.45" stroke-linejoin="round">0.0</text>
<text transform="translate(158 1160.6) scale(0.9139 1)" x="-1.76" y="0" font-size="27" font-weight="bold" stroke="#000" stroke-width="0.45" stroke-linejoin="round">10</text>
<text transform="translate(186.5 1152.3) scale(0.9832 1)" x="-0.72" y="0" font-size="18" font-weight="bold" stroke="#000" stroke-width="0.45" stroke-linejoin="round">-5</text>
<text transform="translate(238.8 1160.6) scale(0.9139 1)" x="-1.76" y="0" font-size="27" font-weight="bold" stroke="#000" stroke-width="0.45" stroke-linejoin="round">10</text>
<text transform="translate(267.3 1152.3) scale(0.9599 1)" x="-0.72" y="0" font-size="18" font-weight="bold" stroke="#000" stroke-width="0.45" stroke-linejoin="round">-4</text>
<text transform="translate(319.6 1160.6) scale(0.9139 1)" x="-1.76" y="0" font-size="27" font-weight="bold" stroke="#000" stroke-width="0.45" stroke-linejoin="round">10</text>
<text transform="translate(348.1 1152.3) scale(0.9952 1)" x="-0.72" y="0" font-size="18" font-weight="bold" stroke="#000" stroke-width="0.45" stroke-linejoin="round">-3</text>
<text transform="translate(400.4 1160.6) scale(0.9139 1)" x="-1.76" y="0" font-size="27" font-weight="bold" stroke="#000" stroke-width="0.45" stroke-linejoin="round">10</text>
<text transform="translate(428.9 1152.3) scale(1.0014 1)" x="-0.72" y="0" font-size="18" font-weight="bold" stroke="#000" stroke-width="0.45" stroke-linejoin="round">-2</text>
<text transform="translate(212.9 1205.9) scale(0.9427 1)" x="-1.45" y="0" font-size="26.3" font-weight="bold" stroke="#000" stroke-width="0.45" stroke-linejoin="round">[IgG] mg/mL</text>
<text transform="translate(50.3 999.8) rotate(-90) scale(0.9304 1)" x="-1.1" y="0" font-size="27.4" font-weight="bold" stroke="#000" stroke-width="0.45" stroke-linejoin="round">OD</text>
<text transform="translate(56.3 962.4) rotate(-90) scale(0.9574 1)" x="-0.29" y="0" font-size="19.2" font-weight="bold" stroke="#000" stroke-width="0.45" stroke-linejoin="round">405nm</text>
<polyline points="151.1,1100 190,1101 228.9,1101 267.3,1101 305.7,1100 344.1,1098.5 382.7,1101 421.1,1102" stroke="#a0a0a4" stroke-width="3.6" fill="none" stroke-linejoin="round"/>
<circle cx="151.1" cy="1100" r="7.6" stroke="#a0a0a4" stroke-width="3.4" fill="#fff"/>
<circle cx="190" cy="1101" r="7.6" stroke="#a0a0a4" stroke-width="3.4" fill="#fff"/>
<circle cx="228.9" cy="1101" r="7.6" stroke="#a0a0a4" stroke-width="3.4" fill="#fff"/>
<circle cx="267.3" cy="1101" r="7.6" stroke="#a0a0a4" stroke-width="3.4" fill="#fff"/>
<circle cx="305.7" cy="1100" r="7.6" stroke="#a0a0a4" stroke-width="3.4" fill="#fff"/>
<circle cx="344.1" cy="1098.5" r="7.6" stroke="#a0a0a4" stroke-width="3.4" fill="#fff"/>
<circle cx="382.7" cy="1101" r="7.6" stroke="#a0a0a4" stroke-width="3.4" fill="#fff"/>
<circle cx="421.1" cy="1102" r="7.6" stroke="#a0a0a4" stroke-width="3.4" fill="#fff"/>
<polyline points="151.1,1099.6 190,1100.3 228.9,1100.3 267.3,1100 305.7,1098.6 344.1,1098 382.7,1098 421.1,1090" stroke="#000" stroke-width="3.6" fill="none" stroke-linejoin="round"/>
<path d="M143.1 1091.6L159.1 1107.6M143.1 1107.6L159.1 1091.6" stroke="#000" stroke-width="3.8" fill="none"/>
<path d="M182 1092.3L198 1108.3M182 1108.3L198 1092.3" stroke="#000" stroke-width="3.8" fill="none"/>
<path d="M220.9 1092.3L236.9 1108.3M220.9 1108.3L236.9 1092.3" stroke="#000" stroke-width="3.8" fill="none"/>
<path d="M259.3 1092L275.3 1108M259.3 1108L275.3 1092" stroke="#000" stroke-width="3.8" fill="none"/>
<path d="M297.7 1090.6L313.7 1106.6M297.7 1106.6L313.7 1090.6" stroke="#000" stroke-width="3.8" fill="none"/>
<path d="M336.1 1090L352.1 1106M336.1 1106L352.1 1090" stroke="#000" stroke-width="3.8" fill="none"/>
<path d="M374.7 1090L390.7 1106M374.7 1106L390.7 1090" stroke="#000" stroke-width="3.8" fill="none"/>
<path d="M413.1 1082L429.1 1098M413.1 1098L429.1 1082" stroke="#000" stroke-width="3.8" fill="none"/>
<polyline points="151.1,1099.6 190,1100.3 228.9,1100.3 267.3,1100 305.7,1098.6 344.1,1098.4 382.7,1098.9 421.1,1096" stroke="#00c000" stroke-width="3.6" fill="none" stroke-linejoin="round"/>
<rect x="143.2" y="1091.7" width="15.8" height="15.8" stroke="none" stroke-width="0" fill="#00c000"/>
<rect x="182.1" y="1092.4" width="15.8" height="15.8" stroke="none" stroke-width="0" fill="#00c000"/>
<rect x="221" y="1092.4" width="15.8" height="15.8" stroke="none" stroke-width="0" fill="#00c000"/>
<rect x="259.4" y="1092.1" width="15.8" height="15.8" stroke="none" stroke-width="0" fill="#00c000"/>
<rect x="297.8" y="1090.7" width="15.8" height="15.8" stroke="none" stroke-width="0" fill="#00c000"/>
<rect x="336.2" y="1090.5" width="15.8" height="15.8" stroke="none" stroke-width="0" fill="#00c000"/>
<rect x="374.8" y="1091" width="15.8" height="15.8" stroke="none" stroke-width="0" fill="#00c000"/>
<rect x="413.2" y="1088.1" width="15.8" height="15.8" stroke="none" stroke-width="0" fill="#00c000"/>
<path d="M382.7 879.5V909M372.9 879.5H392.8M372.9 909H392.8" stroke="#ff0000" stroke-width="3.2" fill="none"/>
<polyline points="151.1,1095.5 190,1097.2 228.9,1091.2 267.3,1077.3 305.7,1036 344.1,973.3 382.7,894.3 421.1,775.5" stroke="#ff0000" stroke-width="3.6" fill="none" stroke-linejoin="round"/>
<circle cx="151.1" cy="1095.5" r="8.3" stroke="none" stroke-width="0" fill="#ff0000"/>
<circle cx="190" cy="1097.2" r="8.3" stroke="none" stroke-width="0" fill="#ff0000"/>
<circle cx="228.9" cy="1091.2" r="8.3" stroke="none" stroke-width="0" fill="#ff0000"/>
<circle cx="267.3" cy="1077.3" r="8.3" stroke="none" stroke-width="0" fill="#ff0000"/>
<circle cx="305.7" cy="1036" r="8.3" stroke="none" stroke-width="0" fill="#ff0000"/>
<circle cx="344.1" cy="973.3" r="8.3" stroke="none" stroke-width="0" fill="#ff0000"/>
<circle cx="382.7" cy="894.3" r="8.3" stroke="none" stroke-width="0" fill="#ff0000"/>
<circle cx="421.1" cy="775.5" r="8.3" stroke="none" stroke-width="0" fill="#ff0000"/>
<line x1="418.2" y1="901.3" x2="461.8" y2="901.3" stroke="#ff0000" stroke-width="4" stroke-linecap="round"/>
<line x1="418.2" y1="938.3" x2="461.8" y2="938.3" stroke="#00c000" stroke-width="4" stroke-linecap="round"/>
<line x1="418.2" y1="977.5" x2="461.8" y2="977.5" stroke="#000" stroke-width="4" stroke-linecap="round"/>
<line x1="418.2" y1="1016.7" x2="461.8" y2="1016.7" stroke="#a0a0a4" stroke-width="4" stroke-linecap="round"/>
<circle cx="439.8" cy="901.3" r="8.3" stroke="none" stroke-width="0" fill="#ff0000"/>
<rect x="431.7" y="930.2" width="16.2" height="16.2" stroke="none" stroke-width="0" fill="#00c000"/>
<path d="M432.2 969.9L447.4 985.1M432.2 985.1L447.4 969.9" stroke="#000" stroke-width="4" fill="none"/>
<circle cx="439.8" cy="1016.7" r="8.2" stroke="#a0a0a4" stroke-width="3.6" fill="#fff"/>
<text transform="translate(486.9 909.2) scale(0.9467 1)" x="-0.58" y="0" font-size="23.1" stroke="#000" stroke-width="0.35" stroke-linejoin="round">Total IgG</text>
<text transform="translate(487.7 945.8) scale(0.9467 1)" x="-1.85" y="0" font-size="23.1" stroke="#000" stroke-width="0.35" stroke-linejoin="round">Pfs48/45-ΔD3</text>
<text transform="translate(487.2 985) scale(0.9395 1)" x="-0.92" y="0" font-size="23.1" stroke="#000" stroke-width="0.35" stroke-linejoin="round">αPfs25</text>
<text transform="translate(487.7 1024.2) scale(0.9328 1)" x="-1.5" y="0" font-size="23.1" stroke="#000" stroke-width="0.35" stroke-linejoin="round">blank</text>
</g>
<g id="panelE">
<text transform="translate(674.9 664.8) scale(0.9247 1)" x="-2.31" y="0" font-size="35.6" font-weight="bold" stroke="#000" stroke-width="0.45" stroke-linejoin="round">E</text>
<line x1="780.8" y1="752" x2="780.8" y2="1119.8" stroke="#000" stroke-width="4.2" />
<line x1="768.3" y1="1117.9" x2="1427.5" y2="1117.9" stroke="#000" stroke-width="3.9" />
<line x1="768.3" y1="753.9" x2="780.8" y2="753.9" stroke="#000" stroke-width="3.8" />
<line x1="768.3" y1="875.23" x2="780.8" y2="875.23" stroke="#000" stroke-width="3.8" />
<line x1="768.3" y1="996.57" x2="780.8" y2="996.57" stroke="#000" stroke-width="3.8" />
<line x1="768.3" y1="1117.9" x2="780.8" y2="1117.9" stroke="#000" stroke-width="3.8" />
<line x1="832.3" y1="1117.9" x2="832.3" y2="1130.1" stroke="#000" stroke-width="3.8" />
<line x1="909.7" y1="1117.9" x2="909.7" y2="1130.1" stroke="#000" stroke-width="3.8" />
<line x1="987.1" y1="1117.9" x2="987.1" y2="1130.1" stroke="#000" stroke-width="3.8" />
<line x1="1064.5" y1="1117.9" x2="1064.5" y2="1130.1" stroke="#000" stroke-width="3.8" />
<line x1="1141.9" y1="1117.9" x2="1141.9" y2="1130.1" stroke="#000" stroke-width="3.8" />
<line x1="1219.3" y1="1117.9" x2="1219.3" y2="1130.1" stroke="#000" stroke-width="3.8" />
<line x1="1296.7" y1="1117.9" x2="1296.7" y2="1130.1" stroke="#000" stroke-width="3.8" />
<line x1="1374.1" y1="1117.9" x2="1374.1" y2="1130.1" stroke="#000" stroke-width="3.8" />
<text transform="translate(760.9 762.5) scale(0.9340 1)" x="-28.89" y="0" font-size="27" font-weight="bold" stroke="#000" stroke-width="0.45" stroke-linejoin="round">60</text>
<text transform="translate(760.9 883.83) scale(0.9340 1)" x="-28.89" y="0" font-size="27" font-weight="bold" stroke="#000" stroke-width="0.45" stroke-linejoin="round">40</text>
<text transform="translate(760.9 1005.17) scale(0.9340 1)" x="-28.89" y="0" font-size="27" font-weight="bold" stroke="#000" stroke-width="0.45" stroke-linejoin="round">20</text>
<text transform="translate(760.9 1126.5) scale(0.9340 1)" x="-13.91" y="0" font-size="27" font-weight="bold" stroke="#000" stroke-width="0.45" stroke-linejoin="round">0</text>
<text transform="translate(716.6 1110.4) rotate(-90) scale(0.9365 1)" x="-1.05" y="0" font-size="26.3" font-weight="bold" stroke="#000" stroke-width="0.45" stroke-linejoin="round">Oocyst number per mosquito</text>
<line x1="949.3" y1="756.6" x2="949.3" y2="1117.5" stroke="#000" stroke-width="2.1" stroke-dasharray="6.3 4" stroke-linecap="round"/>
<line x1="1102.7" y1="756.6" x2="1102.7" y2="1117.5" stroke="#000" stroke-width="2.1" stroke-dasharray="6.3 4" stroke-linecap="round"/>
<line x1="1259.4" y1="756.6" x2="1259.4" y2="1117.5" stroke="#000" stroke-width="2.1" stroke-dasharray="6.3 4" stroke-linecap="round"/>
<text transform="translate(968.2 655) scale(0.9346 1)" x="-1.33" y="0" font-size="26.5" stroke="#000" stroke-width="0.35" stroke-linejoin="round">750µg/mL</text>
<text transform="translate(1003.8 684) scale(0.9785 1)" x="-2.38" y="0" font-size="26.5" stroke="#000" stroke-width="0.35" stroke-linejoin="round">IgG</text>
<text transform="translate(1126.6 655) scale(0.9397 1)" x="-1.33" y="0" font-size="26.5" stroke="#000" stroke-width="0.35" stroke-linejoin="round">250µg/mL</text>
<text transform="translate(1162.8 684) scale(0.9785 1)" x="-2.38" y="0" font-size="26.5" stroke="#000" stroke-width="0.35" stroke-linejoin="round">IgG</text>
<text transform="translate(1285.2 655) scale(0.9309 1)" x="-1.19" y="0" font-size="26.5" stroke="#000" stroke-width="0.35" stroke-linejoin="round">83µg/mL</text>
<text transform="translate(1314.6 684) scale(0.9733 1)" x="-2.38" y="0" font-size="26.5" stroke="#000" stroke-width="0.35" stroke-linejoin="round">IgG</text>
<text transform="translate(961.6 729) scale(0.9300 1)" x="-1.99" y="0" font-size="26.5" stroke="#000" stroke-width="0.35" stroke-linejoin="round">100</text>
<text transform="translate(1028.2 729) scale(0.9154 1)" x="-1.99" y="0" font-size="26.5" stroke="#000" stroke-width="0.35" stroke-linejoin="round">100</text>
<text transform="translate(1130.2 729) scale(0.9471 1)" x="-1.19" y="0" font-size="26.5" stroke="#000" stroke-width="0.35" stroke-linejoin="round">96</text>
<text transform="translate(1198.5 729) scale(0.9555 1)" x="-1.19" y="0" font-size="26.5" stroke="#000" stroke-width="0.35" stroke-linejoin="round">97</text>
<text transform="translate(1285.2 730.4) scale(0.9545 1)" x="-1.33" y="0" font-size="26.5" stroke="#000" stroke-width="0.35" stroke-linejoin="round">25</text>
<text transform="translate(1350.6 728.6) scale(0.9599 1)" x="-1.06" y="0" font-size="26.5" stroke="#000" stroke-width="0.35" stroke-linejoin="round">30</text>
<text transform="translate(1385.8 732) scale(0.9529 1)" x="-0.73" y="0" font-size="29" font-weight="bold" stroke="#000" stroke-width="0.45" stroke-linejoin="round">% TRA</text>
<text transform="translate(914.3 1154.1) rotate(-45) scale(0.9380 1)" x="-48.33" y="0" font-size="27" font-weight="bold" stroke="#000" stroke-width="0.45" stroke-linejoin="round">4B7</text>
<text transform="translate(991.7 1154.1) rotate(-45) scale(0.9380 1)" x="-113.27" y="0" font-size="27" font-weight="bold" stroke="#000" stroke-width="0.45" stroke-linejoin="round">Total IgG</text>
<text transform="translate(1069.1 1154.1) rotate(-45) scale(0.9380 1)" x="-171.59" y="0" font-size="27" font-weight="bold" stroke="#000" stroke-width="0.45" stroke-linejoin="round">Pfs48/45-ΔD3</text>
<text transform="translate(1146.5 1154.1) rotate(-45) scale(0.9380 1)" x="-113.27" y="0" font-size="27" font-weight="bold" stroke="#000" stroke-width="0.45" stroke-linejoin="round">Total IgG</text>
<text transform="translate(1223.9 1154.1) rotate(-45) scale(0.9380 1)" x="-171.59" y="0" font-size="27" font-weight="bold" stroke="#000" stroke-width="0.45" stroke-linejoin="round">Pfs48/45-ΔD3</text>
<text transform="translate(1301.3 1154.1) rotate(-45) scale(0.9380 1)" x="-113.27" y="0" font-size="27" font-weight="bold" stroke="#000" stroke-width="0.45" stroke-linejoin="round">Total IgG</text>
<text transform="translate(1378.7 1154.1) rotate(-45) scale(0.9380 1)" x="-171.59" y="0" font-size="27" font-weight="bold" stroke="#000" stroke-width="0.45" stroke-linejoin="round">Pfs48/45-ΔD3</text>
<text transform="translate(827 1153.7) rotate(-45) scale(0.9380 1)" x="-91.12" y="0" font-size="27" font-weight="bold" stroke="#000" stroke-width="0.45" stroke-linejoin="round">Normal</text>
<text transform="translate(847.3 1173.3) rotate(-45) scale(0.9380 1)" x="-126.9" y="0" font-size="27" font-weight="bold" stroke="#000" stroke-width="0.45" stroke-linejoin="round">Mouse Ab</text>
<path d="M824.3 903.73L840.1 919.53M824.3 919.53L840.1 903.73" stroke="#000" stroke-width="4.3" fill="none"/>
<path d="M824.3 915.87L840.1 931.67M824.3 931.67L840.1 915.87" stroke="#000" stroke-width="4.3" fill="none"/>
<path d="M824.3 1031.13L840.1 1046.93M824.3 1046.93L840.1 1031.13" stroke="#000" stroke-width="4.3" fill="none"/>
<path d="M822.7 1049.33L838.5 1065.13M822.7 1065.13L838.5 1049.33" stroke="#000" stroke-width="4.3" fill="none"/>
<path d="M825.8 1049.33L841.6 1065.13M825.8 1065.13L841.6 1049.33" stroke="#000" stroke-width="4.3" fill="none"/>
<path d="M824.3 1055.4L840.1 1071.2M824.3 1071.2L840.1 1055.4" stroke="#000" stroke-width="4.3" fill="none"/>
<path d="M824.3 1061.47L840.1 1077.27M824.3 1077.27L840.1 1061.47" stroke="#000" stroke-width="4.3" fill="none"/>
<path d="M831 1061.47L846.8 1077.27M831 1077.27L846.8 1061.47" stroke="#000" stroke-width="4.3" fill="none"/>
<path d="M820.8 1067.53L836.6 1083.33M820.8 1083.33L836.6 1067.53" stroke="#000" stroke-width="4.3" fill="none"/>
<path d="M817.5 1073.6L833.3 1089.4M817.5 1089.4L833.3 1073.6" stroke="#000" stroke-width="4.3" fill="none"/>
<path d="M824.3 1073.6L840.1 1089.4M824.3 1089.4L840.1 1073.6" stroke="#000" stroke-width="4.3" fill="none"/>
<path d="M824.3 1079.67L840.1 1095.47M824.3 1095.47L840.1 1079.67" stroke="#000" stroke-width="4.3" fill="none"/>
<path d="M824.3 1085.73L840.1 1101.53M824.3 1101.53L840.1 1085.73" stroke="#000" stroke-width="4.3" fill="none"/>
<path d="M824.3 1091.8L840.1 1107.6M824.3 1107.6L840.1 1091.8" stroke="#000" stroke-width="4.3" fill="none"/>
<path d="M813.1 1097.87L828.9 1113.67M813.1 1113.67L828.9 1097.87" stroke="#000" stroke-width="4.3" fill="none"/>
<path d="M827.9 1097.87L843.7 1113.67M827.9 1113.67L843.7 1097.87" stroke="#000" stroke-width="4.3" fill="none"/>
<path d="M820.1 1103.93L835.9 1119.73M820.1 1119.73L835.9 1103.93" stroke="#000" stroke-width="4.3" fill="none"/>
<path d="M828.1 1103.93L843.9 1119.73M828.1 1119.73L843.9 1103.93" stroke="#000" stroke-width="4.3" fill="none"/>
<path d="M808.4 1110L824.2 1125.8M808.4 1125.8L824.2 1110" stroke="#000" stroke-width="4.3" fill="none"/>
<path d="M817.5 1110L833.3 1125.8M817.5 1125.8L833.3 1110" stroke="#000" stroke-width="4.3" fill="none"/>
<path d="M821.8 1110L837.6 1125.8M821.8 1125.8L837.6 1110" stroke="#000" stroke-width="4.3" fill="none"/>
<path d="M826.2 1110L842 1125.8M826.2 1125.8L842 1110" stroke="#000" stroke-width="4.3" fill="none"/>
<path d="M830.5 1110L846.3 1125.8M830.5 1125.8L846.3 1110" stroke="#000" stroke-width="4.3" fill="none"/>
<path d="M834.8 1110L850.6 1125.8M834.8 1125.8L850.6 1110" stroke="#000" stroke-width="4.3" fill="none"/>
<path d="M838.6 1110L854.4 1125.8M838.6 1125.8L854.4 1110" stroke="#000" stroke-width="4.3" fill="none"/>
<path d="M841.8 1110L857.6 1125.8M841.8 1125.8L857.6 1110" stroke="#000" stroke-width="4.3" fill="none"/>
<line x1="806.3" y1="1093.6" x2="857.9" y2="1093.6" stroke="#000" stroke-width="3.7" />
<path d="M909.6 1072.7L918.4 1081.5L909.6 1090.3L900.8 1081.5Z" fill="#000"/>
<path d="M910.5 1084.83L919.3 1093.63L910.5 1102.43L901.7 1093.63Z" fill="#000"/>
<path d="M908.2 1090.9L917 1099.7L908.2 1108.5L899.4 1099.7Z" fill="#000"/>
<path d="M894 1096.97L902.8 1105.77L894 1114.57L885.2 1105.77Z" fill="#000"/>
<path d="M898.3 1096.97L907.1 1105.77L898.3 1114.57L889.5 1105.77Z" fill="#000"/>
<path d="M924.9 1096.97L933.7 1105.77L924.9 1114.57L916.1 1105.77Z" fill="#000"/>
<path d="M896.5 1103.03L905.3 1111.83L896.5 1120.63L887.7 1111.83Z" fill="#000"/>
<path d="M904 1103.03L912.8 1111.83L904 1120.63L895.2 1111.83Z" fill="#000"/>
<path d="M912 1103.03L920.8 1111.83L912 1120.63L903.2 1111.83Z" fill="#000"/>
<path d="M920 1103.03L928.8 1111.83L920 1120.63L911.2 1111.83Z" fill="#000"/>
<path d="M893 1109.1L901.8 1117.9L893 1126.7L884.2 1117.9Z" fill="#000"/>
<path d="M900.4 1109.1L909.2 1117.9L900.4 1126.7L891.6 1117.9Z" fill="#000"/>
<path d="M905.2 1109.1L914 1117.9L905.2 1126.7L896.4 1117.9Z" fill="#000"/>
<path d="M909.9 1109.1L918.7 1117.9L909.9 1126.7L901.1 1117.9Z" fill="#000"/>
<path d="M915.8 1109.1L924.6 1117.9L915.8 1126.7L907 1117.9Z" fill="#000"/>
<path d="M917.9 1109.1L926.7 1117.9L917.9 1126.7L909.1 1117.9Z" fill="#000"/>
<path d="M920 1109.1L928.8 1117.9L920 1126.7L911.2 1117.9Z" fill="#000"/>
<path d="M922 1109.1L930.8 1117.9L922 1126.7L913.2 1117.9Z" fill="#000"/>
<path d="M924.1 1109.1L932.9 1117.9L924.1 1126.7L915.3 1117.9Z" fill="#000"/>
<path d="M925.4 1109.1L934.2 1117.9L925.4 1126.7L916.6 1117.9Z" fill="#000"/>
<circle cx="969.5" cy="1117.9" r="8.4" stroke="#000" stroke-width="0.95" fill="none"/>
<circle cx="971.56" cy="1117.9" r="8.4" stroke="#000" stroke-width="0.95" fill="none"/>
<circle cx="973.62" cy="1117.9" r="8.4" stroke="#000" stroke-width="0.95" fill="none"/>
<circle cx="975.68" cy="1117.9" r="8.4" stroke="#000" stroke-width="0.95" fill="none"/>
<circle cx="977.74" cy="1117.9" r="8.4" stroke="#000" stroke-width="0.95" fill="none"/>
<circle cx="979.8" cy="1117.9" r="8.4" stroke="#000" stroke-width="0.95" fill="none"/>
<circle cx="981.86" cy="1117.9" r="8.4" stroke="#000" stroke-width="0.95" fill="none"/>
<circle cx="983.92" cy="1117.9" r="8.4" stroke="#000" stroke-width="0.95" fill="none"/>
<circle cx="985.98" cy="1117.9" r="8.4" stroke="#000" stroke-width="0.95" fill="none"/>
<circle cx="988.04" cy="1117.9" r="8.4" stroke="#000" stroke-width="0.95" fill="none"/>
<circle cx="990.1" cy="1117.9" r="8.4" stroke="#000" stroke-width="0.95" fill="none"/>
<circle cx="992.16" cy="1117.9" r="8.4" stroke="#000" stroke-width="0.95" fill="none"/>
<circle cx="994.22" cy="1117.9" r="8.4" stroke="#000" stroke-width="0.95" fill="none"/>
<circle cx="996.28" cy="1117.9" r="8.4" stroke="#000" stroke-width="0.95" fill="none"/>
<circle cx="998.34" cy="1117.9" r="8.4" stroke="#000" stroke-width="0.95" fill="none"/>
<circle cx="1000.4" cy="1117.9" r="8.4" stroke="#000" stroke-width="0.95" fill="none"/>
<circle cx="1002.46" cy="1117.9" r="8.4" stroke="#000" stroke-width="0.95" fill="none"/>
<circle cx="1004.52" cy="1117.9" r="8.4" stroke="#000" stroke-width="0.95" fill="none"/>
<rect x="1038.1" y="1109.6" width="16.6" height="16.6" stroke="#000" stroke-width="0.95" fill="none"/>
<rect x="1040.1" y="1109.6" width="16.6" height="16.6" stroke="#000" stroke-width="0.95" fill="none"/>
<rect x="1042.1" y="1109.6" width="16.6" height="16.6" stroke="#000" stroke-width="0.95" fill="none"/>
<rect x="1044.1" y="1109.6" width="16.6" height="16.6" stroke="#000" stroke-width="0.95" fill="none"/>
<rect x="1046.1" y="1109.6" width="16.6" height="16.6" stroke="#000" stroke-width="0.95" fill="none"/>
<rect x="1048.1" y="1109.6" width="16.6" height="16.6" stroke="#000" stroke-width="0.95" fill="none"/>
<rect x="1050.1" y="1109.6" width="16.6" height="16.6" stroke="#000" stroke-width="0.95" fill="none"/>
<rect x="1052.1" y="1109.6" width="16.6" height="16.6" stroke="#000" stroke-width="0.95" fill="none"/>
<rect x="1054.1" y="1109.6" width="16.6" height="16.6" stroke="#000" stroke-width="0.95" fill="none"/>
<rect x="1056.1" y="1109.6" width="16.6" height="16.6" stroke="#000" stroke-width="0.95" fill="none"/>
<rect x="1058.1" y="1109.6" width="16.6" height="16.6" stroke="#000" stroke-width="0.95" fill="none"/>
<rect x="1060.1" y="1109.6" width="16.6" height="16.6" stroke="#000" stroke-width="0.95" fill="none"/>
<rect x="1062.1" y="1109.6" width="16.6" height="16.6" stroke="#000" stroke-width="0.95" fill="none"/>
<rect x="1064.1" y="1109.6" width="16.6" height="16.6" stroke="#000" stroke-width="0.95" fill="none"/>
<rect x="1066.1" y="1109.6" width="16.6" height="16.6" stroke="#000" stroke-width="0.95" fill="none"/>
<rect x="1068.1" y="1109.6" width="16.6" height="16.6" stroke="#000" stroke-width="0.95" fill="none"/>
<rect x="1070.1" y="1109.6" width="16.6" height="16.6" stroke="#000" stroke-width="0.95" fill="none"/>
<rect x="1072.1" y="1109.6" width="16.6" height="16.6" stroke="#000" stroke-width="0.95" fill="none"/>
<rect x="1074.1" y="1109.6" width="16.6" height="16.6" stroke="#000" stroke-width="0.95" fill="none"/>
<circle cx="1125" cy="1117.9" r="8.4" stroke="#000" stroke-width="0.95" fill="none"/>
<circle cx="1127.1" cy="1117.9" r="8.4" stroke="#000" stroke-width="0.95" fill="none"/>
<circle cx="1129.2" cy="1117.9" r="8.4" stroke="#000" stroke-width="0.95" fill="none"/>
<circle cx="1131.3" cy="1117.9" r="8.4" stroke="#000" stroke-width="0.95" fill="none"/>
<circle cx="1133.4" cy="1117.9" r="8.4" stroke="#000" stroke-width="0.95" fill="none"/>
<circle cx="1135.5" cy="1117.9" r="8.4" stroke="#000" stroke-width="0.95" fill="none"/>
<circle cx="1137.6" cy="1117.9" r="8.4" stroke="#000" stroke-width="0.95" fill="none"/>
<circle cx="1139.7" cy="1117.9" r="8.4" stroke="#000" stroke-width="0.95" fill="none"/>
<circle cx="1141.8" cy="1117.9" r="8.4" stroke="#000" stroke-width="0.95" fill="none"/>
<circle cx="1143.9" cy="1117.9" r="8.4" stroke="#000" stroke-width="0.95" fill="none"/>
<circle cx="1146" cy="1117.9" r="8.4" stroke="#000" stroke-width="0.95" fill="none"/>
<circle cx="1148.1" cy="1117.9" r="8.4" stroke="#000" stroke-width="0.95" fill="none"/>
<circle cx="1150.2" cy="1117.9" r="8.4" stroke="#000" stroke-width="0.95" fill="none"/>
<circle cx="1152.3" cy="1117.9" r="8.4" stroke="#000" stroke-width="0.95" fill="none"/>
<circle cx="1154.4" cy="1117.9" r="8.4" stroke="#000" stroke-width="0.95" fill="none"/>
<circle cx="1156.5" cy="1117.9" r="8.4" stroke="#000" stroke-width="0.95" fill="none"/>
<circle cx="1158.6" cy="1117.9" r="8.4" stroke="#000" stroke-width="0.95" fill="none"/>
<circle cx="1126" cy="1105.77" r="8.4" stroke="#000" stroke-width="1.3" fill="none"/>
<circle cx="1157.6" cy="1105.77" r="8.4" stroke="#000" stroke-width="1.3" fill="none"/>
<circle cx="1152" cy="1111.83" r="8.4" stroke="#000" stroke-width="1.3" fill="none"/>
<rect x="1193" y="1109.6" width="16.6" height="16.6" stroke="#000" stroke-width="0.95" fill="none"/>
<rect x="1195" y="1109.6" width="16.6" height="16.6" stroke="#000" stroke-width="0.95" fill="none"/>
<rect x="1197" y="1109.6" width="16.6" height="16.6" stroke="#000" stroke-width="0.95" fill="none"/>
<rect x="1199" y="1109.6" width="16.6" height="16.6" stroke="#000" stroke-width="0.95" fill="none"/>
<rect x="1201" y="1109.6" width="16.6" height="16.6" stroke="#000" stroke-width="0.95" fill="none"/>
<rect x="1203" y="1109.6" width="16.6" height="16.6" stroke="#000" stroke-width="0.95" fill="none"/>
<rect x="1205" y="1109.6" width="16.6" height="16.6" stroke="#000" stroke-width="0.95" fill="none"/>
<rect x="1207" y="1109.6" width="16.6" height="16.6" stroke="#000" stroke-width="0.95" fill="none"/>
<rect x="1209" y="1109.6" width="16.6" height="16.6" stroke="#000" stroke-width="0.95" fill="none"/>
<rect x="1211" y="1109.6" width="16.6" height="16.6" stroke="#000" stroke-width="0.95" fill="none"/>
<rect x="1213" y="1109.6" width="16.6" height="16.6" stroke="#000" stroke-width="0.95" fill="none"/>
<rect x="1215" y="1109.6" width="16.6" height="16.6" stroke="#000" stroke-width="0.95" fill="none"/>
<rect x="1217" y="1109.6" width="16.6" height="16.6" stroke="#000" stroke-width="0.95" fill="none"/>
<rect x="1219" y="1109.6" width="16.6" height="16.6" stroke="#000" stroke-width="0.95" fill="none"/>
<rect x="1221" y="1109.6" width="16.6" height="16.6" stroke="#000" stroke-width="0.95" fill="none"/>
<rect x="1223" y="1109.6" width="16.6" height="16.6" stroke="#000" stroke-width="0.95" fill="none"/>
<rect x="1225" y="1109.6" width="16.6" height="16.6" stroke="#000" stroke-width="0.95" fill="none"/>
<rect x="1227" y="1109.6" width="16.6" height="16.6" stroke="#000" stroke-width="0.95" fill="none"/>
<rect x="1229" y="1109.6" width="16.6" height="16.6" stroke="#000" stroke-width="0.95" fill="none"/>
<rect x="1195.1" y="1103.53" width="16.6" height="16.6" stroke="#000" stroke-width="1.3" fill="none"/>
<rect x="1221.1" y="1103.53" width="16.6" height="16.6" stroke="#000" stroke-width="1.3" fill="none"/>
<rect x="1226.7" y="1097.47" width="16.6" height="16.6" stroke="#000" stroke-width="1.3" fill="none"/>
<circle cx="1296.5" cy="826.7" r="8.4" stroke="#000" stroke-width="1.3" fill="none"/>
<circle cx="1296.5" cy="1008.7" r="8.4" stroke="#000" stroke-width="1.3" fill="none"/>
<circle cx="1296.5" cy="1032.97" r="8.4" stroke="#000" stroke-width="1.3" fill="none"/>
<circle cx="1295.7" cy="1093.63" r="8.4" stroke="#000" stroke-width="1.3" fill="none"/>
<circle cx="1298.2" cy="1099.7" r="8.4" stroke="#000" stroke-width="1.3" fill="none"/>
<circle cx="1281.3" cy="1111.83" r="8.4" stroke="#000" stroke-width="0.95" fill="none"/>
<circle cx="1284.98" cy="1111.83" r="8.4" stroke="#000" stroke-width="0.95" fill="none"/>
<circle cx="1288.66" cy="1111.83" r="8.4" stroke="#000" stroke-width="0.95" fill="none"/>
<circle cx="1292.34" cy="1111.83" r="8.4" stroke="#000" stroke-width="0.95" fill="none"/>
<circle cx="1296.02" cy="1111.83" r="8.4" stroke="#000" stroke-width="0.95" fill="none"/>
<circle cx="1299.7" cy="1111.83" r="8.4" stroke="#000" stroke-width="0.95" fill="none"/>
<circle cx="1303.38" cy="1111.83" r="8.4" stroke="#000" stroke-width="0.95" fill="none"/>
<circle cx="1307.06" cy="1111.83" r="8.4" stroke="#000" stroke-width="0.95" fill="none"/>
<circle cx="1310.74" cy="1111.83" r="8.4" stroke="#000" stroke-width="0.95" fill="none"/>
<circle cx="1314.42" cy="1111.83" r="8.4" stroke="#000" stroke-width="0.95" fill="none"/>
<circle cx="1279.3" cy="1117.9" r="8.4" stroke="#000" stroke-width="0.95" fill="none"/>
<circle cx="1284.5" cy="1117.9" r="8.4" stroke="#000" stroke-width="0.95" fill="none"/>
<circle cx="1288.5" cy="1117.9" r="8.4" stroke="#000" stroke-width="0.95" fill="none"/>
<circle cx="1291" cy="1117.9" r="8.4" stroke="#000" stroke-width="0.95" fill="none"/>
<circle cx="1293.5" cy="1117.9" r="8.4" stroke="#000" stroke-width="0.95" fill="none"/>
<circle cx="1296" cy="1117.9" r="8.4" stroke="#000" stroke-width="0.95" fill="none"/>
<circle cx="1299.5" cy="1117.9" r="8.4" stroke="#000" stroke-width="0.95" fill="none"/>
<circle cx="1302" cy="1117.9" r="8.4" stroke="#000" stroke-width="0.95" fill="none"/>
<circle cx="1304.5" cy="1117.9" r="8.4" stroke="#000" stroke-width="0.95" fill="none"/>
<circle cx="1307" cy="1117.9" r="8.4" stroke="#000" stroke-width="0.95" fill="none"/>
<circle cx="1311.3" cy="1117.9" r="8.4" stroke="#000" stroke-width="0.95" fill="none"/>
<line x1="1271.2" y1="1111.6" x2="1323.1" y2="1111.6" stroke="#000" stroke-width="3.8" />
<rect x="1365.8" y="957.93" width="16.6" height="16.6" stroke="#000" stroke-width="1.3" fill="none"/>
<rect x="1365.8" y="970.07" width="16.6" height="16.6" stroke="#000" stroke-width="1.3" fill="none"/>
<rect x="1365.8" y="1030.73" width="16.6" height="16.6" stroke="#000" stroke-width="1.3" fill="none"/>
<rect x="1364.6" y="1073.2" width="16.6" height="16.6" stroke="#000" stroke-width="1.3" fill="none"/>
<rect x="1367" y="1073.2" width="16.6" height="16.6" stroke="#000" stroke-width="1.3" fill="none"/>
<rect x="1364.6" y="1085.33" width="16.6" height="16.6" stroke="#000" stroke-width="1.3" fill="none"/>
<rect x="1367" y="1085.33" width="16.6" height="16.6" stroke="#000" stroke-width="1.3" fill="none"/>
<rect x="1350.8" y="1097.47" width="16.6" height="16.6" stroke="#000" stroke-width="1.3" fill="none"/>
<rect x="1356.7" y="1097.47" width="16.6" height="16.6" stroke="#000" stroke-width="1.3" fill="none"/>
<rect x="1353.9" y="1103.53" width="16.6" height="16.6" stroke="#000" stroke-width="1.3" fill="none"/>
<rect x="1362.8" y="1103.53" width="16.6" height="16.6" stroke="#000" stroke-width="1.3" fill="none"/>
<rect x="1348" y="1109.6" width="16.6" height="16.6" stroke="#000" stroke-width="0.95" fill="none"/>
<rect x="1359.2" y="1109.6" width="16.6" height="16.6" stroke="#000" stroke-width="0.95" fill="none"/>
<rect x="1361" y="1109.6" width="16.6" height="16.6" stroke="#000" stroke-width="0.95" fill="none"/>
<rect x="1364" y="1109.6" width="16.6" height="16.6" stroke="#000" stroke-width="0.95" fill="none"/>
<rect x="1366.3" y="1109.6" width="16.6" height="16.6" stroke="#000" stroke-width="0.95" fill="none"/>
<rect x="1368.1" y="1109.6" width="16.6" height="16.6" stroke="#000" stroke-width="0.95" fill="none"/>
<rect x="1370.5" y="1109.6" width="16.6" height="16.6" stroke="#000" stroke-width="0.95" fill="none"/>
<rect x="1371.7" y="1109.6" width="16.6" height="16.6" stroke="#000" stroke-width="0.95" fill="none"/>
<rect x="1373.45" y="1109.6" width="16.6" height="16.6" stroke="#000" stroke-width="0.95" fill="none"/>
<rect x="1375.2" y="1109.6" width="16.6" height="16.6" stroke="#000" stroke-width="0.95" fill="none"/>
<rect x="1376.95" y="1109.6" width="16.6" height="16.6" stroke="#000" stroke-width="0.95" fill="none"/>
<rect x="1378.7" y="1109.6" width="16.6" height="16.6" stroke="#000" stroke-width="0.95" fill="none"/>
<rect x="1380.45" y="1109.6" width="16.6" height="16.6" stroke="#000" stroke-width="0.95" fill="none"/>
<rect x="1382.2" y="1109.6" width="16.6" height="16.6" stroke="#000" stroke-width="0.95" fill="none"/>
<rect x="1383.95" y="1109.6" width="16.6" height="16.6" stroke="#000" stroke-width="0.95" fill="none"/>
<line x1="1348" y1="1111.2" x2="1400.4" y2="1111.2" stroke="#000" stroke-width="3.8" />
</g>
</svg>
</body>
</html>
